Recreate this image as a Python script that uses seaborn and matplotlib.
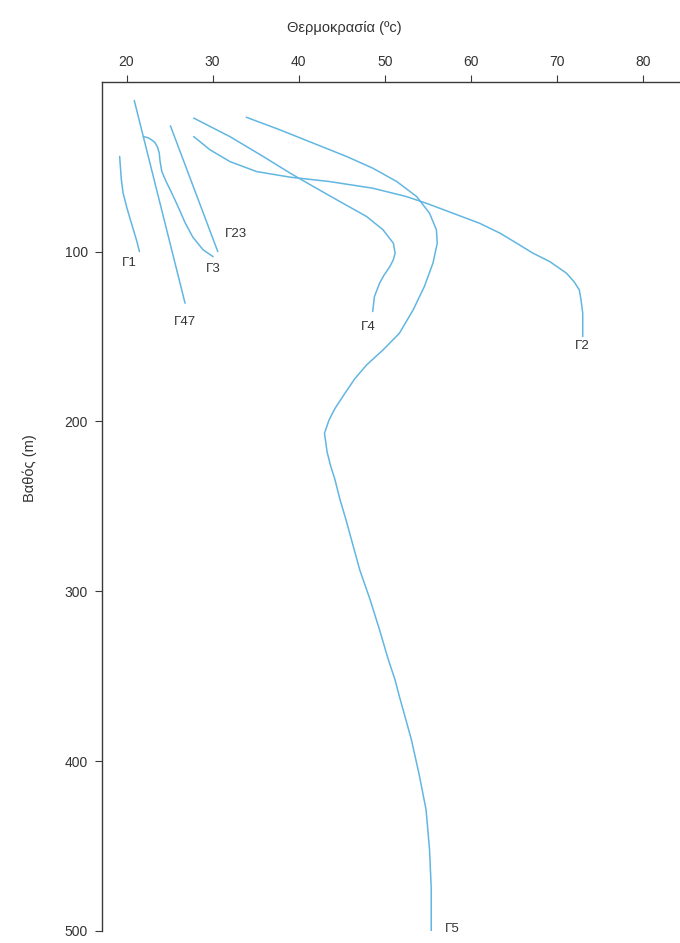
import pandas as pd
import matplotlib
matplotlib.use("Agg")
import matplotlib.pyplot as plt
import seaborn as sns

# Temperature (°C) versus depth (m) profiles of the boreholes
g1_temp = [19.2, 19.3, 19.4, 19.6, 20.0, 20.4, 20.8, 21.2, 21.5]
g1_depth = [44.0, 51.0, 57.8, 65.5, 73.5, 80.5, 87.2, 94.0, 100.0]

g47_temp = [20.9, 26.8]
g47_depth = [11.1, 130.4]

g3_temp = [21.95, 22.5, 22.9, 23.3, 23.6, 23.8, 23.9, 24.1, 24.6, 25.2, 25.8,
           26.2, 26.8, 27.7, 28.9, 30.06]
g3_depth = [32.3, 33.0, 34.2, 35.8, 38.5, 42.0, 47.0, 52.9, 58.8, 65.0, 71.5,
            76.0, 83.0, 91.5, 99.0, 103.0]

g23_temp = [25.1, 30.6]
g23_depth = [26.0, 100.0]

g4_temp = [27.8, 32.0, 35.9, 39.0, 41.7, 44.8, 47.9, 49.8, 51.0, 51.2, 51.0, 50.6,
           49.9, 49.4, 48.8, 48.6]
g4_depth = [21.4, 32.3, 44.1, 53.8, 61.7, 70.6, 79.4, 87.2, 95.1, 100.9, 104.8, 108.8,
            114.0, 118.6, 126.5, 135.3]

g2_temp = [27.8, 29.7, 32.0, 35.1, 39.0, 43.6, 48.6, 52.5, 54.8, 57.9, 61.0, 63.4,
           65.3, 67.2, 69.2, 71.1, 72.0, 72.6, 72.8, 73.0, 73.0]
g2_depth = [32.3, 40.1, 47.0, 52.9, 56.2, 58.8, 62.7, 67.6, 71.5, 77.4, 83.3, 89.2,
            95.0, 100.9, 106.0, 112.7, 117.8, 122.6, 128.4, 136.3, 150.0]

g5_temp = [33.9, 37.8, 41.7, 45.6, 48.6, 51.4, 53.7, 55.2, 56.0, 56.1, 55.6, 54.6,
           53.3, 51.7, 49.8, 47.9, 46.5, 45.3, 44.2, 43.5, 43.0, 43.3, 43.7, 44.2,
           44.8, 45.5, 47.1, 48.3, 49.4, 50.4, 51.2, 51.7, 52.2, 53.1, 54.0, 54.8,
           55.2, 55.4, 55.4]
g5_depth = [20.9, 28.3, 36.2, 44.1, 50.9, 58.8, 67.6, 77.4, 87.2, 95.1, 106.8, 120.6,
            134.3, 148.1, 157.9, 166.7, 175.0, 184.0, 192.5, 199.5, 207.0, 218.0, 226.0, 234.0,
            246.0, 258.0, 287.5, 305.0, 322.8, 340.0, 352.2, 362.0, 371.0, 387.5, 408.0, 428.6,
            452.0, 475.0, 500.0]

wells = ["Γ1", "Γ47", "Γ3", "Γ23", "Γ4", "Γ2", "Γ5"]
temps = [g1_temp, g47_temp, g3_temp, g23_temp, g4_temp, g2_temp, g5_temp]
depths = [g1_depth, g47_depth, g3_depth, g23_depth, g4_depth, g2_depth, g5_depth]

x_ticks = [20, 30, 40, 50, 60, 70, 80]
y_ticks = [100, 200, 300, 400, 500]

frames = []
for name, t, d in zip(wells, temps, depths):
    frames.append(pd.DataFrame({"well": name, "temp": t, "depth": d,
                                "step": range(len(t))}))
df = pd.concat(frames, ignore_index=True)

sns.set_style("white")
plt.rcParams["font.family"] = ["Liberation Sans", "DejaVu Sans"]

W, H = 680, 943
fig = plt.figure(figsize=(W / 100, H / 100), dpi=100)
ax = fig.add_axes([102 / W, 1 - 931 / H, (680 - 102) / W, (931 - 81.7) / H])

line_color = "#62b6e2"
sns.lineplot(data=df, x="temp", y="depth", units="well", estimator=None,
             sort=False, color=line_color, linewidth=1.1, ax=ax, legend=False)
for ln in ax.get_lines():
    ln.set_solid_joinstyle("round")

ax.set_xlim(17.15, 84.3)
ax.set_ylim(500, 0)
ax.xaxis.tick_top()
ax.set_xticks(x_ticks)
ax.set_yticks(y_ticks)

for side in ("bottom", "right"):
    ax.spines[side].set_visible(False)
for side in ("top", "left"):
    ax.spines[side].set_color("#3a3a3a")
    ax.spines[side].set_linewidth(1.0)

ax.tick_params(axis="both", direction="out", length=5, width=0.8,
               color="#3a3a3a", labelcolor="#333333", labelsize=10)
ax.tick_params(axis="x", pad=4, top=True, bottom=False)
ax.tick_params(axis="y", pad=5, left=True)

ax.xaxis.set_label_position("top")
ax.set_xlabel("Θερμοκρασία (ºc)", fontsize=10.5, color="#333333")
ax.xaxis.set_label_coords(0.42, 1.058)
ax.set_ylabel("Βαθός (m)", fontsize=10.5, color="#333333")
ax.yaxis.set_label_coords(-0.112, 0.545)

# well names next to the deepest point of each profile (offsets in pixels)
label_offsets = {
    "Γ1": (-10, -11), "Γ47": (0, -19), "Γ3": (0, -12), "Γ23": (18, 18),
    "Γ4": (-4, -15), "Γ2": (0, -10), "Γ5": (21, 2),
}
for name, t, d in zip(wells, temps, depths):
    ax.annotate(name, xy=(t[-1], d[-1]), xycoords="data",
                xytext=label_offsets[name], textcoords="offset pixels",
                ha="center", va="center", fontsize=9.5, color="#333333")

fig.savefig("out.png", dpi=100)
